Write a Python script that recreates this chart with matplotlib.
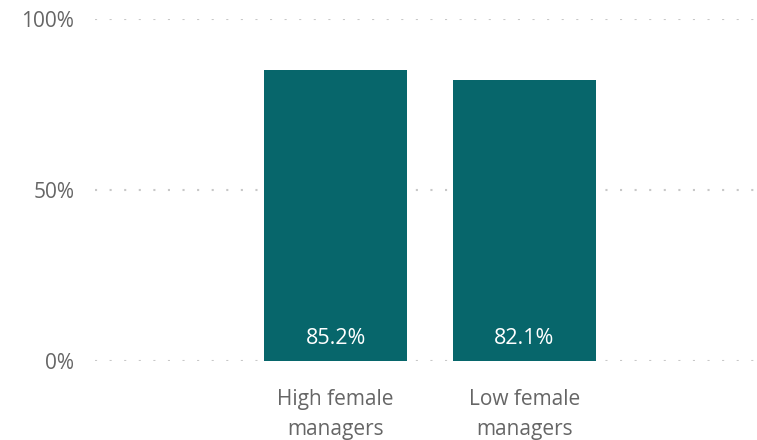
import matplotlib.pyplot as plt
from matplotlib.ticker import FuncFormatter

categories = ["High female\nmanagers", "Low female\nmanagers"]
values = [85.2, 82.1]
value_labels = ["85.2%", "82.1%"]

plt.rcParams['font.family'] = ['Open Sans', 'DejaVu Sans']

fig = plt.figure(figsize=(7.57, 4.40), dpi=100)
ax = fig.add_axes([95 / 757, 1 - 361 / 440, 662 / 757, 342 / 440])

x = range(len(categories))
bars = ax.bar(x, values, width=0.757, color="#07666b", zorder=3)

for rect, lab in zip(bars, value_labels):
    ax.text(rect.get_x() + rect.get_width() / 2, 6.7, lab, ha="center", va="center",
            color="white", fontsize=15.5, zorder=4)

ax.set_ylim(0, 100)
ax.set_xlim(-1.273, 2.23)
ax.set_yticks([0, 50, 100])
ax.yaxis.set_major_formatter(FuncFormatter(lambda v, p: f"{int(v)}%"))
ax.set_xticks(list(x))
ax.set_xticklabels(categories, linespacing=1.6)
ax.tick_params(axis="both", length=0, colors="#666666", labelsize=15)
ax.tick_params(axis="y", pad=15)
ax.tick_params(axis="x", pad=20)

ax.grid(axis="y", color="#c8c8c8", linestyle=(0, (1, 6)), linewidth=1.5, zorder=0)
for s in ax.spines.values():
    s.set_visible(False)

fig.savefig("out.png", dpi=100)
